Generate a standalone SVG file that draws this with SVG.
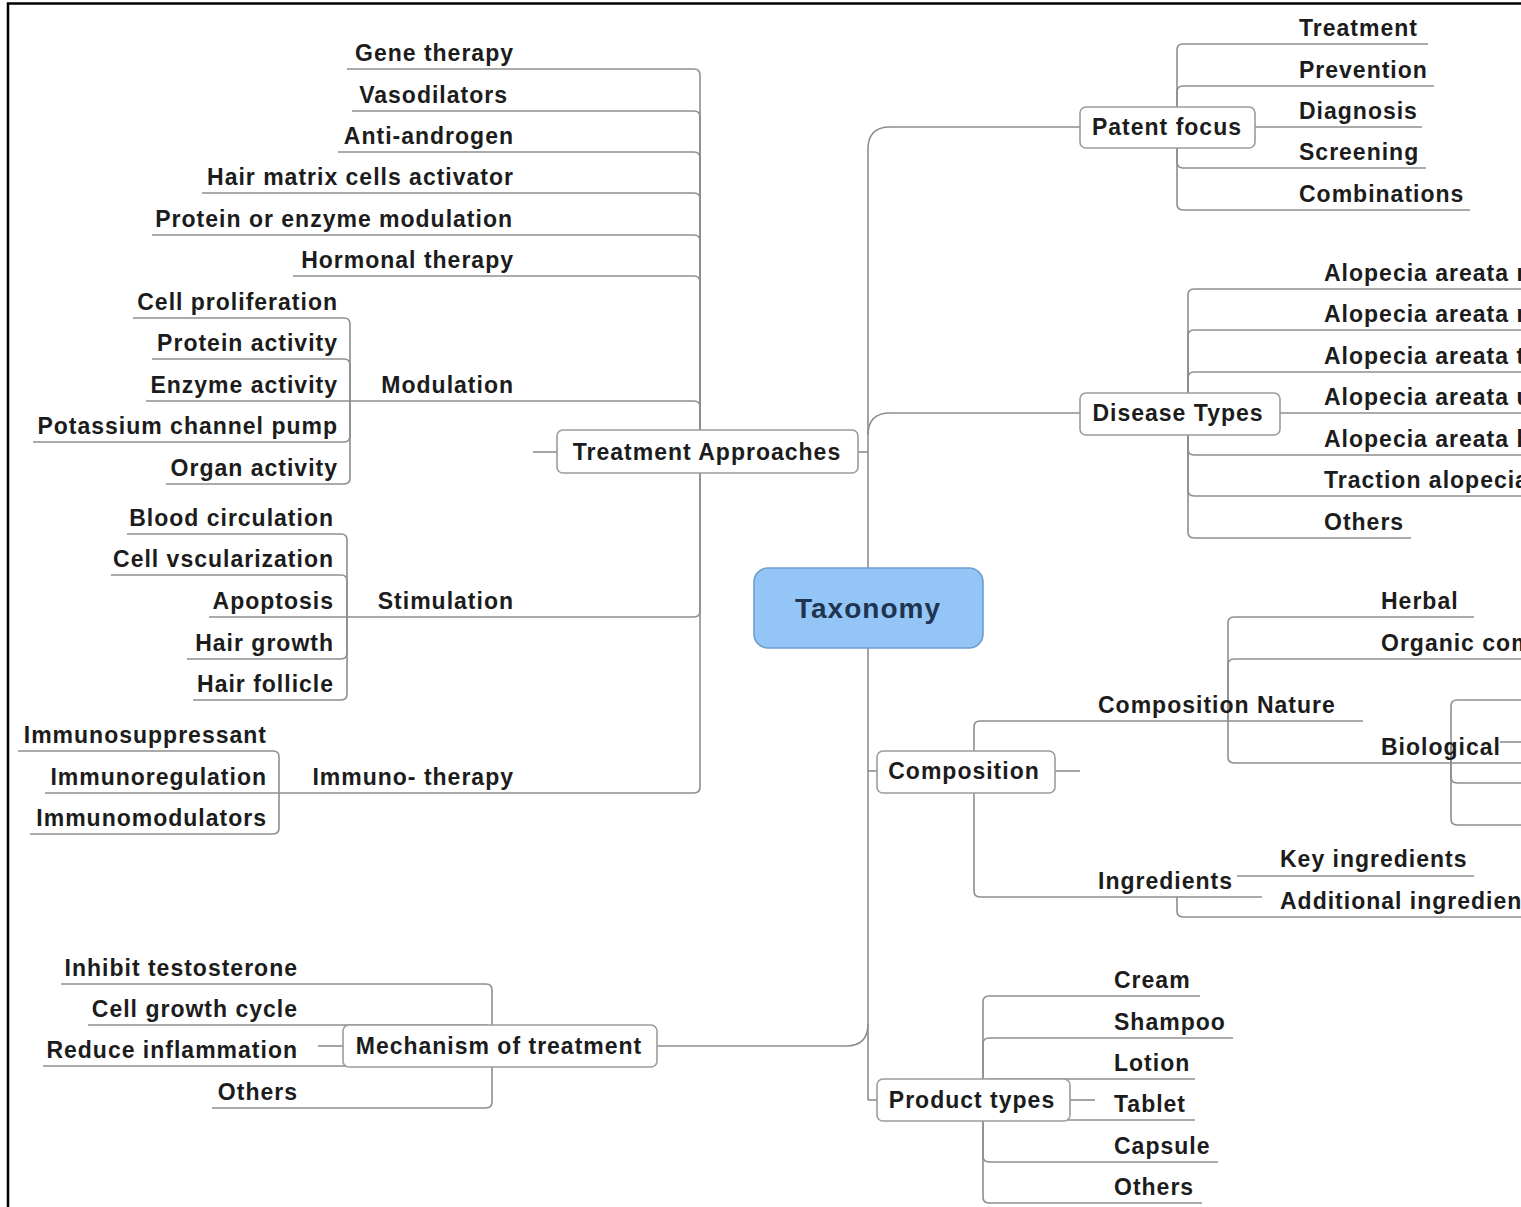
<svg xmlns="http://www.w3.org/2000/svg" width="1521" height="1207" viewBox="0 0 1521 1207">
<style>
.c{fill:none;stroke:#8e8e8e;stroke-width:1.6}
.t{font-family:"Liberation Sans",Arial,sans-serif;font-weight:bold;font-size:23px;letter-spacing:1px;fill:#1c1c1c}
.e{text-anchor:end}
.m{text-anchor:middle}
.b{fill:#fff;stroke:#9c9c9c;stroke-width:1.6}
</style>
<rect width="1521" height="1207" fill="#fff"/>
<path d="M8,1207 V3.5 H1521" fill="none" stroke="#000" stroke-width="2.5"/>
<g id="connectors" class="c">
<path d="M700,452 V75 Q700,69 694,69 H347"/>
<path d="M700,452 V117 Q700,111 694,111 H352"/>
<path d="M700,452 V158 Q700,152 694,152 H338"/>
<path d="M700,452 V199 Q700,193 694,193 H202"/>
<path d="M700,452 V241 Q700,235 694,235 H152"/>
<path d="M700,452 V282 Q700,276 694,276 H293"/>
<path d="M700,452 V407 Q700,401 694,401 H350"/>
<path d="M700,452 V611 Q700,617 694,617 H347"/>
<path d="M700,452 V787 Q700,793 694,793 H279"/>
<path d="M533,452 H557"/>
<path d="M350,401 V324 Q350,318 344,318 H133"/>
<path d="M350,401 V365 Q350,359 344,359 H152"/>
<path d="M350,401 H146"/>
<path d="M350,401 V436 Q350,442 344,442 H33"/>
<path d="M350,401 V478 Q350,484 344,484 H166"/>
<path d="M347,617 V540 Q347,534 341,534 H127"/>
<path d="M347,617 V581 Q347,575 341,575 H111"/>
<path d="M347,617 H209"/>
<path d="M347,617 V653 Q347,659 341,659 H187"/>
<path d="M347,617 V694 Q347,700 341,700 H193"/>
<path d="M279,793 V757 Q279,751 273,751 H18"/>
<path d="M279,793 H45"/>
<path d="M279,793 V828 Q279,834 273,834 H30"/>
<path d="M492,1046 V990 Q492,984 486,984 H61"/>
<path d="M492,1046 V1031 Q492,1025 486,1025 H88"/>
<path d="M492,1046 V1060 Q492,1066 486,1066 H43"/>
<path d="M492,1046 V1102 Q492,1108 486,1108 H212"/>
<path d="M318,1046 H343"/>
<path d="M657,1046 H846 Q868,1046 868,1024"/>
<path d="M868,1100 V149 Q868,127 890,127 H1080"/>
<path d="M868,435 Q868,413 890,413 H1080"/>
<path d="M858,452 H868"/>
<path d="M868,771 H877"/>
<path d="M868,1100 H877"/>
<path d="M1177,127 V50 Q1177,44 1183,44 H1428"/>
<path d="M1177,127 V92 Q1177,86 1183,86 H1434"/>
<path d="M1177,127 H1422"/>
<path d="M1177,127 V162 Q1177,168 1183,168 H1426"/>
<path d="M1177,127 V204 Q1177,210 1183,210 H1470"/>
<path d="M1188,413 V295 Q1188,289 1194,289 H1521"/>
<path d="M1188,413 V336 Q1188,330 1194,330 H1521"/>
<path d="M1188,413 V378 Q1188,372 1194,372 H1521"/>
<path d="M1188,413 H1521"/>
<path d="M1188,413 V449 Q1188,455 1194,455 H1521"/>
<path d="M1188,413 V490 Q1188,496 1194,496 H1521"/>
<path d="M1188,413 V532 Q1188,538 1194,538 H1411"/>
<path d="M974,771 V727 Q974,721 980,721 H1363"/>
<path d="M974,771 V891 Q974,897 980,897 H1262"/>
<path d="M1055,771 H1080"/>
<path d="M1228,721 V623 Q1228,617 1234,617 H1474"/>
<path d="M1228,721 V665 Q1228,659 1234,659 H1521"/>
<path d="M1228,721 V757 Q1228,763 1234,763 H1521"/>
<path d="M1451,742 V706 Q1451,700 1457,700 H1521"/>
<path d="M1451,742 V777 Q1451,783 1457,783 H1521"/>
<path d="M1451,742 V819 Q1451,825 1457,825 H1521"/>
<path d="M1500,742 H1521"/>
<path d="M1237,876 H1474"/>
<path d="M1177,897 V911 Q1177,917 1183,917 H1521"/>
<path d="M983,1100 V1002 Q983,996 989,996 H1200"/>
<path d="M983,1100 V1044 Q983,1038 989,1038 H1233"/>
<path d="M983,1100 V1085 Q983,1079 989,1079 H1195"/>
<path d="M983,1100 V1114 Q983,1120 989,1120 H1195"/>
<path d="M983,1100 V1156 Q983,1162 989,1162 H1218"/>
<path d="M983,1100 V1197 Q983,1203 989,1203 H1202"/>
<path d="M1070,1100 H1095"/>
</g>
<g id="taxonomy">
<rect x="754" y="568" width="229" height="80" rx="14" fill="#93c6f6" stroke="#6d9fcf" stroke-width="1.6"/>
<text class="t m" x="868" y="618" style="font-size:28px;fill:#1f3450">Taxonomy</text>
</g>
<g id="treatment-approaches">
<rect class="b" x="557" y="430" width="301" height="43" rx="6"/>
<text class="t m" x="707" y="460">Treatment Approaches</text>
</g>
<g id="ta-leaves">
<text class="t e" x="514" y="61">Gene therapy</text>
<text class="t e" x="508" y="103">Vasodilators</text>
<text class="t e" x="514" y="144">Anti-androgen</text>
<text class="t e" x="514" y="185">Hair matrix cells activator</text>
<text class="t e" x="513" y="227">Protein or enzyme modulation</text>
<text class="t e" x="514" y="268">Hormonal therapy</text>
</g>
<g id="modulation">
<text class="t e" x="514" y="393">Modulation</text>
<text class="t e" x="338" y="310">Cell proliferation</text>
<text class="t e" x="338" y="351">Protein activity</text>
<text class="t e" x="338" y="393">Enzyme activity</text>
<text class="t e" x="338" y="434">Potassium channel pump</text>
<text class="t e" x="338" y="476">Organ activity</text>
</g>
<g id="stimulation">
<text class="t e" x="514" y="609">Stimulation</text>
<text class="t e" x="334" y="526">Blood circulation</text>
<text class="t e" x="334" y="567">Cell vscularization</text>
<text class="t e" x="334" y="609">Apoptosis</text>
<text class="t e" x="334" y="651">Hair growth</text>
<text class="t e" x="334" y="692">Hair follicle</text>
</g>
<g id="immuno-therapy">
<text class="t e" x="514" y="785">Immuno- therapy</text>
<text class="t e" x="267" y="743">Immunosuppressant</text>
<text class="t e" x="267" y="785">Immunoregulation</text>
<text class="t e" x="267" y="826">Immunomodulators</text>
</g>
<g id="mechanism">
<rect class="b" x="343" y="1025" width="314" height="42" rx="6"/>
<text class="t m" x="499" y="1054">Mechanism of treatment</text>
<text class="t e" x="298" y="976">Inhibit testosterone</text>
<text class="t e" x="298" y="1017">Cell growth cycle</text>
<text class="t e" x="298" y="1058">Reduce inflammation</text>
<text class="t e" x="298" y="1100">Others</text>
</g>
<g id="patent-focus">
<rect class="b" x="1080" y="107" width="175" height="41" rx="6"/>
<text class="t m" x="1167" y="135">Patent focus</text>
<text class="t" x="1299" y="36">Treatment</text>
<text class="t" x="1299" y="78">Prevention</text>
<text class="t" x="1299" y="119">Diagnosis</text>
<text class="t" x="1299" y="160">Screening</text>
<text class="t" x="1299" y="202">Combinations</text>
</g>
<g id="disease-types">
<rect class="b" x="1080" y="393" width="200" height="42" rx="6"/>
<text class="t m" x="1178" y="421">Disease Types</text>
<text class="t" x="1324" y="281">Alopecia areata m</text>
<text class="t" x="1324" y="322">Alopecia areata m</text>
<text class="t" x="1324" y="364">Alopecia areata t</text>
<text class="t" x="1324" y="405">Alopecia areata u</text>
<text class="t" x="1324" y="447">Alopecia areata b</text>
<text class="t" x="1324" y="488">Traction alopecia</text>
<text class="t" x="1324" y="530">Others</text>
</g>
<g id="composition">
<rect class="b" x="877" y="751" width="178" height="42" rx="6"/>
<text class="t m" x="964" y="779">Composition</text>
<text class="t" x="1098" y="713">Composition Nature</text>
<text class="t" x="1381" y="609">Herbal</text>
<text class="t" x="1381" y="651">Organic com</text>
<text class="t" x="1381" y="755">Biological</text>
<text class="t" x="1098" y="889">Ingredients</text>
<text class="t" x="1280" y="867">Key ingredients</text>
<text class="t" x="1280" y="909">Additional ingredients</text>
</g>
<g id="product-types">
<rect class="b" x="877" y="1079" width="193" height="42" rx="6"/>
<text class="t m" x="972" y="1108">Product types</text>
<text class="t" x="1114" y="988">Cream</text>
<text class="t" x="1114" y="1030">Shampoo</text>
<text class="t" x="1114" y="1071">Lotion</text>
<text class="t" x="1114" y="1112">Tablet</text>
<text class="t" x="1114" y="1154">Capsule</text>
<text class="t" x="1114" y="1195">Others</text>
</g>
</svg>
